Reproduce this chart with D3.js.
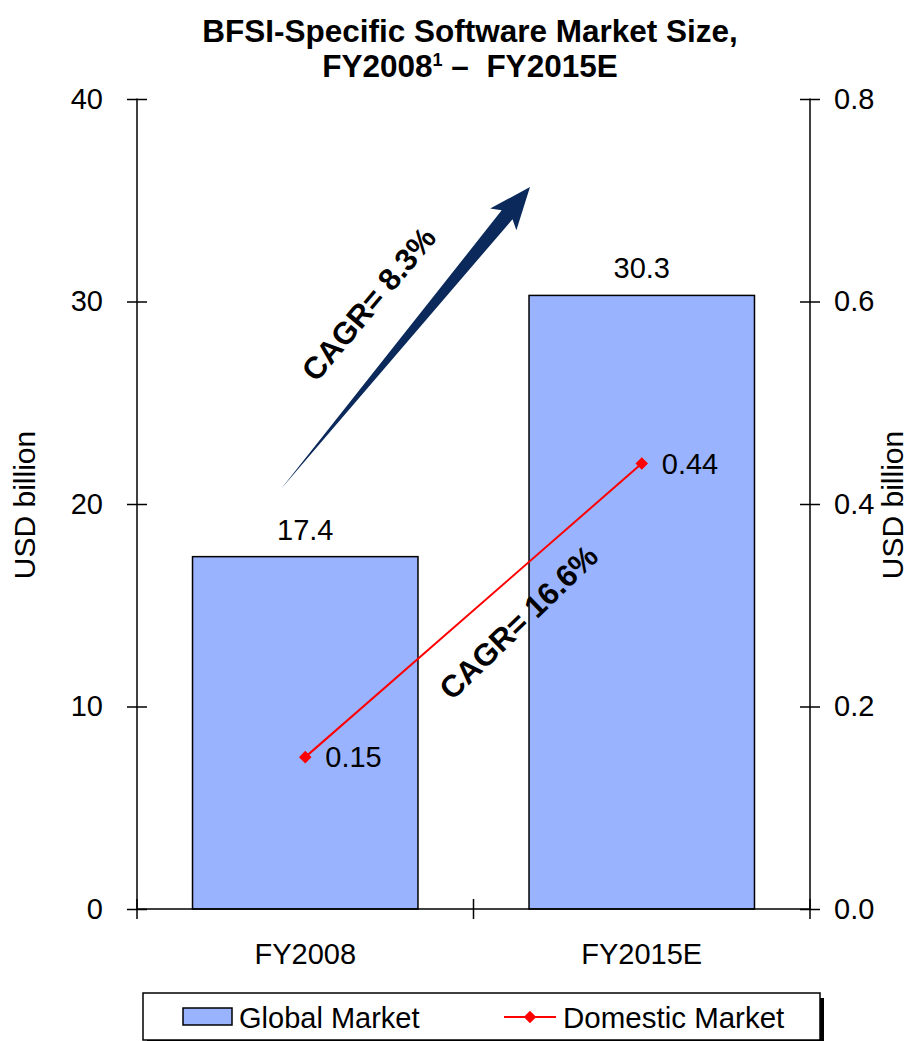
<!DOCTYPE html>
<html>
<head>
<meta charset="utf-8">
<script src="https://cdn.jsdelivr.net/npm/d3@7"></script>
<style>
  body { margin: 0; background: #fff; }
  text { font-family: Arial, 'Liberation Sans', sans-serif; }
</style>
</head>
<body>
<div id="chart"></div>
<script>
// data
const categories = ['FY2008', 'FY2015E']
const globalMarket = [17.4, 30.3]
const domesticMarket = [0.15, 0.44]
const leftTicks = [0, 10, 20, 30, 40]
const rightTicks = [0, 0.2, 0.4, 0.6, 0.8]

const W = 909
const H = 1041
const margin = { top: 99, left: 137, right: 99, bottom: 132 }
const width = W - margin.left - margin.right
const height = H - margin.top - margin.bottom
const fs = 29

const svg = d3
  .select('#chart')
  .append('svg')
  .attr('width', W)
  .attr('height', H)

const g = svg
  .append('g')
  .attr('transform', 'translate(' + margin.left + ',' + margin.top + ')')

const x = d3
  .scaleBand()
  .domain(categories)
  .range([0, width])
  .paddingInner(0.33)
  .paddingOuter(0.165)

const y = d3.scaleLinear().domain([0, 40]).range([height, 0])
const y2 = d3.scaleLinear().domain([0, 0.8]).range([height, 0])

// bars
g.selectAll('.bar')
  .data(globalMarket)
  .enter()
  .append('rect')
  .attr('class', 'bar')
  .attr('x', (d, i) => x(categories[i]))
  .attr('y', d => y(d))
  .attr('width', x.bandwidth())
  .attr('height', d => height - y(d))
  .attr('fill', '#99B3FF')
  .attr('stroke', '#000')
  .attr('stroke-width', 1.5)

g.selectAll('.bar-label')
  .data(globalMarket)
  .enter()
  .append('text')
  .attr('x', (d, i) => x(categories[i]) + x.bandwidth() / 2)
  .attr('y', d => y(d) - 17)
  .attr('text-anchor', 'middle')
  .attr('font-size', fs)
  .text(d => d.toFixed(1))

// axes
const yAxis = d3
  .axisLeft(y)
  .tickValues(leftTicks)
  .tickSize(10)
  .tickPadding(24)
  .tickFormat(d3.format('d'))
const gy = g.append('g').attr('class', 'axis').call(yAxis)

const yAxisRight = d3
  .axisRight(y2)
  .tickValues(rightTicks)
  .tickSize(10)
  .tickPadding(14)
  .tickFormat(d3.format('.1f'))
const gy2 = g
  .append('g')
  .attr('class', 'axis')
  .attr('transform', `translate(${width},0)`)
  .call(yAxisRight)

const xAxis = d3
  .axisBottom(x)
  .tickSize(0)
  .tickPadding(34)
const gx = g
  .append('g')
  .attr('class', 'axis')
  .attr('transform', `translate(0,${height})`)
  .call(xAxis)

// category boundary ticks on the x axis
const xEdges = [0, width / 2, width]
gx.selectAll('.edge')
  .data(xEdges)
  .enter()
  .append('line')
  .attr('x1', d => d)
  .attr('x2', d => d)
  .attr('y1', -10)
  .attr('y2', 10)
  .attr('stroke', '#000')
  .attr('stroke-width', 1.5)

svg.selectAll('.axis .domain').attr('stroke', '#000').attr('stroke-width', 1.5)
svg.selectAll('.axis .tick line').attr('stroke', '#000').attr('stroke-width', 1.5)
svg.selectAll('.axis text').attr('font-size', fs).attr('fill', '#000')
gy.selectAll('.tick line').attr('x2', -10).attr('x1', 10)
gy2.selectAll('.tick line').attr('x1', -10).attr('x2', 10)
gy.select('.domain').attr('d', `M0,${-0.5}V${height}`)
gy2.select('.domain').attr('d', `M0,${-0.5}V${height}`)
gx.select('.domain').attr('d', `M0,0H${width}`)

// domestic market line
const line = d3
  .line()
  .x((d, i) => x(categories[i]) + x.bandwidth() / 2)
  .y(d => y2(d))

g.append('path')
  .datum(domesticMarket)
  .attr('d', line)
  .attr('fill', 'none')
  .attr('stroke', '#FF0000')
  .attr('stroke-width', 2)

g.selectAll('.marker')
  .data(domesticMarket)
  .enter()
  .append('path')
  .attr('d', d3.symbol().type(d3.symbolDiamond2).size(100))
  .attr('transform', (d, i) => `translate(${x(categories[i]) + x.bandwidth() / 2},${y2(d)})`)
  .attr('fill', '#FF0000')

g.selectAll('.line-label')
  .data(domesticMarket)
  .enter()
  .append('text')
  .attr('x', (d, i) => x(categories[i]) + x.bandwidth() / 2 + 20)
  .attr('y', d => y2(d) + 10)
  .attr('font-size', fs)
  .text(d => d.toFixed(2))

// CAGR arrow (global)
const tail = [281, 489]
const tip = [530, 187]
const ang = Math.atan2(tip[1] - tail[1], tip[0] - tail[0])
const len = Math.hypot(tip[0] - tail[0], tip[1] - tail[1])
const headLen = 42
const arrowPts = [
  [0, 0],
  [len - headLen + 6, -7],
  [len - headLen, -17],
  [len, 0],
  [len - headLen, 17],
  [len - headLen + 6, 7],
  [0, 0]
]
svg
  .append('path')
  .attr('d', d3.line()(arrowPts) + 'Z')
  .attr('transform', `translate(${tail[0]},${tail[1]}) rotate(${(ang * 180) / Math.PI})`)
  .attr('fill', '#0B2A5B')

svg
  .append('text')
  .attr('transform', 'translate(377,311) rotate(-50)')
  .attr('text-anchor', 'middle')
  .attr('font-size', 31)
  .attr('font-weight', 'bold')
  .text('CAGR= 8.3%')

svg
  .append('text')
  .attr('transform', 'translate(526,630) rotate(-44)')
  .attr('text-anchor', 'middle')
  .attr('font-size', 31)
  .attr('font-weight', 'bold')
  .text('CAGR= 16.6%')

// title
const title = svg
  .append('text')
  .attr('text-anchor', 'middle')
  .attr('font-size', 31.5)
  .attr('font-weight', 'bold')
title.append('tspan').attr('x', 470).attr('y', 42).text('BFSI-Specific Software Market Size,')
const t2 = title.append('tspan').attr('x', 470).attr('y', 77)
t2.append('tspan').text('FY2008')
t2.append('tspan').attr('font-size', 18).attr('dy', -11).text('1')
t2.append('tspan').attr('dy', 11).text(' \u2013 \u00a0FY2015E')

// axis titles
svg
  .append('text')
  .attr('transform', 'translate(35,505) rotate(-90)')
  .attr('text-anchor', 'middle')
  .attr('font-size', 30)
  .text('USD billion')

svg
  .append('text')
  .attr('transform', 'translate(903,505) rotate(-90)')
  .attr('text-anchor', 'middle')
  .attr('font-size', 30)
  .text('USD billion')

// legend
const legend = svg.append('g')
legend
  .append('rect')
  .attr('x', 147)
  .attr('y', 998)
  .attr('width', 677)
  .attr('height', 46)
  .attr('fill', '#000')
legend
  .append('rect')
  .attr('x', 143)
  .attr('y', 993)
  .attr('width', 677)
  .attr('height', 47)
  .attr('fill', '#fff')
  .attr('stroke', '#000')
  .attr('stroke-width', 1.5)

legend
  .append('rect')
  .attr('x', 183)
  .attr('y', 1008)
  .attr('width', 49)
  .attr('height', 17)
  .attr('fill', '#99B3FF')
  .attr('stroke', '#000')
  .attr('stroke-width', 1.5)
legend
  .append('text')
  .attr('x', 239)
  .attr('y', 1028)
  .attr('font-size', fs)
  .text('Global Market')

legend
  .append('line')
  .attr('x1', 504)
  .attr('x2', 556)
  .attr('y1', 1017)
  .attr('y2', 1017)
  .attr('stroke', '#FF0000')
  .attr('stroke-width', 2)
legend
  .append('path')
  .attr('d', d3.symbol().type(d3.symbolDiamond2).size(100))
  .attr('transform', 'translate(530,1017)')
  .attr('fill', '#FF0000')
legend
  .append('text')
  .attr('x', 563)
  .attr('y', 1028)
  .attr('font-size', 29.5)
  .text('Domestic Market')
</script>
</body>
</html>
